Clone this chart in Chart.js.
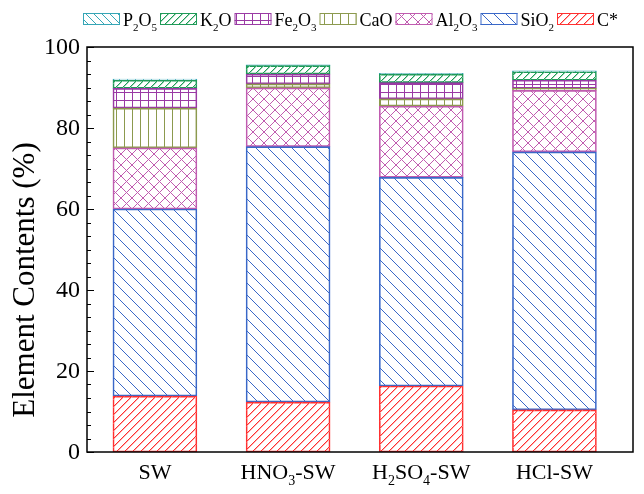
<!DOCTYPE html>
<html>
<head>
<meta charset="utf-8">
<script src="https://cdn.jsdelivr.net/npm/chart.js@4.4.0/dist/chart.umd.min.js"></script>
<style>
  html, body { margin: 0; padding: 0; background: #fff; }
  #wrap { width: 644px; height: 494px; }
</style>
</head>
<body>
<div id="wrap"><canvas id="myChart" width="644" height="494"></canvas></div>
<script>
// samples on the x axis ("_" marks the next char as subscript)
const samples = ['SW', 'HNO_3-SW', 'H_2SO_4-SW', 'HCl-SW'];

// element contents (%), stacked bottom -> top
const cStar = [13.8, 12.3, 16.3, 10.4];
const sio2  = [46.2, 63.1, 51.5, 63.7];
const al2o3 = [15.1, 14.5, 17.6, 15.2];
const cao   = [9.8, 1.0, 1.8, 0.5];
const fe2o3 = [4.9, 2.4, 4.0, 2.0];
const k2o   = [2.0, 2.1, 2.1, 2.1];
const p2o5  = [0.3, 0.2, 0.2, 0.2];

const yTicks = [0, 20, 40, 60, 80, 100];

const FONT = '"Times New Roman", "Liberation Serif", serif';

// hatch fills, drawn pixel by pixel so the lines stay crisp
// soft = second, paler pixel next to each line pixel (makes thin lines read as coloured)
function makePattern(kind, color, s, soft) {
    const c = document.createElement('canvas');
    c.width = s; c.height = s;
    const g = c.getContext('2d');
    const m = Math.floor(s / 2);
    const dot = (x, y) => g.fillRect((x + s) % s, (y + s) % s, 1, 1);
    if (soft) {
        g.fillStyle = soft;
        for (let i = 0; i < s; i++) {
            if (kind === 'fwd' || kind === 'cross') dot(i + 1, s - 1 - i);
            if (kind === 'back' || kind === 'cross') dot(i + 1, i);
        }
    }
    g.fillStyle = color;
    for (let i = 0; i < s; i++) {
        if (kind === 'fwd' || kind === 'cross') dot(i, s - 1 - i);
        if (kind === 'back' || kind === 'cross') dot(i, i);
        if (kind === 'vert' || kind === 'grid') dot(m, i);
        if (kind === 'grid') dot(i, m);
    }
    return g.createPattern(c, 'repeat');
}

const series = [
    { name: 'C*',      data: cStar, color: '#ff3030', soft: '#ffb0b0', kind: 'fwd',   size: 8 },
    { name: 'SiO_2',   data: sio2,  color: '#3a68c8', soft: null,      kind: 'back',  size: 12 },
    { name: 'Al_2O_3', data: al2o3, color: '#c05cb0', soft: null,      kind: 'cross', size: 11 },
    { name: 'CaO',     data: cao,   color: '#8c9a4e', soft: null,      kind: 'vert',  size: 8 },
    { name: 'Fe_2O_3', data: fe2o3, color: '#9a3aa4', soft: null,      kind: 'grid',  size: 8 },
    { name: 'K_2O',    data: k2o,   color: '#1f9a58', soft: '#a8dcbc', kind: 'fwd',   size: 7 },
    { name: 'P_2O_5',  data: p2o5,  color: '#36a6b6', soft: null,      kind: 'back',  size: 8 }
];
series.forEach(s => { s.pattern = makePattern(s.kind, s.color, s.size, s.soft); });

// text with subscripts
function splitSub(str) {
    const out = [];
    let i = 0;
    while (i < str.length) {
        if (str[i] === '_') { out.push({ t: str[i + 1], sub: true }); i += 2; }
        else {
            let j = i;
            while (j < str.length && str[j] !== '_') j++;
            out.push({ t: str.slice(i, j), sub: false });
            i = j;
        }
    }
    return out;
}
function measureSub(ctx, str, size) {
    let w = 0;
    splitSub(str).forEach(p => {
        ctx.font = (p.sub ? Math.round(size * 0.62) : size) + 'px ' + FONT;
        w += ctx.measureText(p.t).width;
    });
    return w;
}
function drawSub(ctx, str, x, y, size) {
    ctx.textAlign = 'left';
    ctx.textBaseline = 'alphabetic';
    splitSub(str).forEach(p => {
        const fs = p.sub ? Math.round(size * 0.62) : size;
        ctx.font = fs + 'px ' + FONT;
        ctx.fillText(p.t, x, p.sub ? y + size * 0.28 : y);
        x += ctx.measureText(p.t).width;
    });
    return x;
}

const decorPlugin = {
    id: 'decor',
    afterDraw(chart) {
        const ctx = chart.ctx;
        const a = chart.chartArea;
        const ys = chart.scales.y;
        const xs = chart.scales.x;
        ctx.save();
        ctx.fillStyle = '#000';
        ctx.strokeStyle = '#000';

        // frame
        ctx.lineWidth = 1.5;
        ctx.strokeRect(a.left, a.top, a.right - a.left, a.bottom - a.top);

        // y ticks: majors every 20, 5 minors in between
        ctx.lineWidth = 1.2;
        ctx.beginPath();
        for (let k = 0; k <= 30; k++) {
            const v = k * 20 / 6;
            const py = Math.round(ys.getPixelForValue(v)) + 0.5;
            const len = (k % 6 === 0) ? 7 : 4;
            ctx.moveTo(a.left, py);
            ctx.lineTo(a.left + len, py);
        }
        ctx.stroke();

        // y tick labels
        ctx.font = '24px ' + FONT;
        ctx.textAlign = 'right';
        ctx.textBaseline = 'middle';
        yTicks.forEach(v => {
            ctx.fillText(String(v), a.left - 7, ys.getPixelForValue(v) + 1);
        });

        // x labels
        samples.forEach((lab, i) => {
            const w = measureSub(ctx, lab, 22);
            drawSub(ctx, lab, xs.getPixelForValue(i) - w / 2, a.bottom + 27, 22);
        });

        // y title
        ctx.save();
        ctx.translate(34, 280);
        ctx.rotate(-Math.PI / 2);
        ctx.font = '31px ' + FONT;
        ctx.textAlign = 'center';
        ctx.textBaseline = 'alphabetic';
        ctx.fillText('Element Contents (%)', 0, 0);
        ctx.restore();

        // legend (top item of the stack first)
        let lx = 83;
        const boxW = 37, boxH = 12, boxY = 13;
        series.slice().reverse().forEach(s => {
            ctx.fillStyle = s.pattern;
            ctx.fillRect(lx, boxY, boxW, boxH);
            ctx.strokeStyle = s.color;
            ctx.lineWidth = 1;
            ctx.strokeRect(lx + 0.5, boxY + 0.5, boxW - 1, boxH - 1);
            ctx.fillStyle = '#000';
            lx = drawSub(ctx, s.name, lx + boxW + 3, boxY + 13, 18) + 3;
        });
        ctx.restore();
    }
};

const ctx = document.getElementById('myChart').getContext('2d');
window.myChart = new Chart(ctx, {
    type: 'bar',
    data: {
        datasets: series.map(s => ({
            label: s.name.replace(/_/g, ''),
            data: s.data.map((v, i) => ({ x: i, y: v })),
            backgroundColor: s.pattern,
            borderColor: s.color,
            borderWidth: 1,
            borderSkipped: false,
            barThickness: 84
        }))
    },
    options: {
        responsive: false,
        animation: false,
        layout: { padding: { left: 87, right: 11, top: 47, bottom: 42 } },
        plugins: { legend: { display: false }, tooltip: { enabled: false } },
        scales: {
            x: { type: 'linear', min: -0.51, max: 3.59, offset: false, stacked: true, display: false },
            y: { min: 0, max: 100, stacked: true, display: false }
        }
    },
    plugins: [decorPlugin]
});
</script>
</body>
</html>
